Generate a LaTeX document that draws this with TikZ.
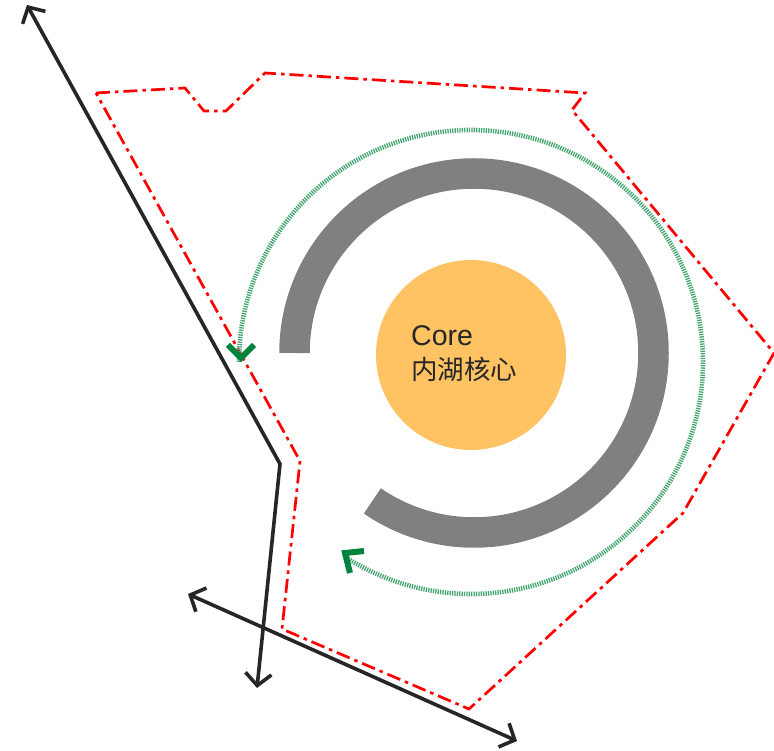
\documentclass[tikz,border=0pt]{standalone}
\usepackage{fontspec}
\setmainfont{Liberation Sans}
\newfontfamily\cjk{Noto Sans CJK SC}
\usetikzlibrary{arrows.meta}
\definecolor{ringgray}{HTML}{7F8180}
\definecolor{coreorange}{HTML}{FFC364}
\definecolor{flowgreen}{HTML}{00843D}
\definecolor{flowlight}{HTML}{45A570}
\tikzset{%
      boundary/.style={draw=red, line width=2.7pt, dash pattern=on 14pt off 5pt on 3.5pt off 5pt},
      road/.style={draw=black!85, line width=3.6pt, {Straight Barb[length=12pt,width=26pt]}-{Straight Barb[length=12pt,width=26pt]}},
      ring/.style={draw=ringgray, line width=30.5pt},
      flow/.style={draw=flowlight, line width=4.6pt, dash pattern=on 1.3pt off 1.1pt},
      flowtip/.style={draw=flowgreen, line width=6pt, miter limit=4},
      caption/.style={anchor=base west, inner sep=0pt, text=black!85},
    }
\newcommand{\flowhead}[3]{\path [flowtip] (#1) -- (#2) -- (#3);}
\begin{document}
\begin{tikzpicture}[x=1pt,y=1pt]
      \useasboundingbox (0,0) rectangle (774,750);

      % Site boundary
      \clip (0,0) rectangle (774,750);
      \path [boundary] (96,657) -- (185,662) -- (204,639) -- (226,639) -- (265,677)
        -- (585,657) -- (572,640) -- (774,397) -- (683,237) -- (469,41)
        -- (282,121) -- (300,289) -- cycle;

      % Core and ring
      \node (core) [circle, fill=coreorange, minimum size=190pt, inner sep=0pt] at (471,395) {};
      \path [ring] (294.5,397) arc[start angle=180, end angle=-124.5, radius=179.5pt];
      \node (label1) [caption, font=\fontsize{28.5}{34}\selectfont] at (411,404) {Core};
      \node (label2) [caption, font=\fontsize{26.5}{34}\selectfont\cjk] at (411,370) {内湖核心};

      % Green flow
      \path [flow] (239,388) arc[start angle=180, end angle=-122, radius=232pt];
      \flowhead{228,405}{241,392}{254,405}
      \flowhead{364,199}{345,197}{350,177}

      % Roads
      \coordinate (r1) at (27,745);
      \coordinate (r2) at (280,286);
      \coordinate (r3) at (257,62);
      \coordinate (r4) at (188,156);
      \coordinate (r5) at (517,9);
      \path [road] (r1) -- (r2) -- (r3);
      \path [road] (r4) -- (r5);
\end{tikzpicture}
\end{document}
